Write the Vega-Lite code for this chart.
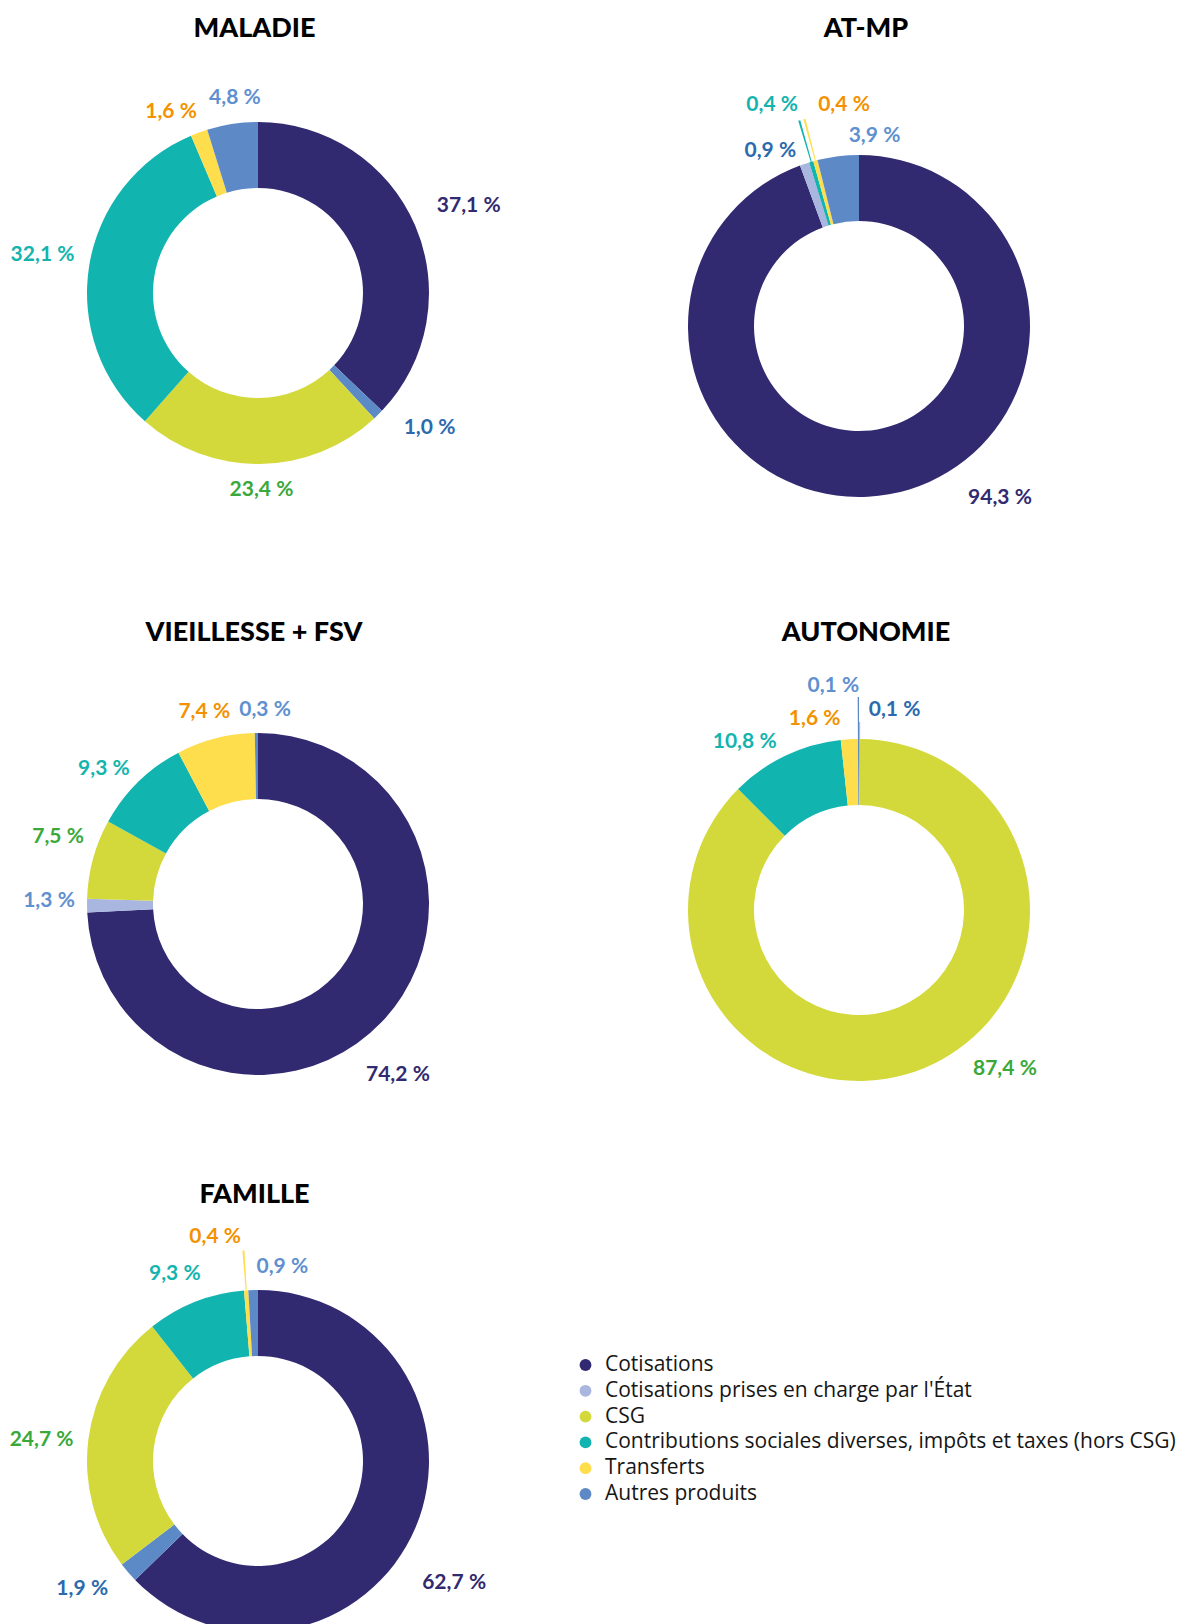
{
  "$schema": "https://vega.github.io/schema/vega-lite/v6.json",
  "background": "white",
  "padding": {"top": 15, "left": 0, "right": 0, "bottom": 0},
  "autosize": {"type": "pad"},
  "datasets": {
    "d": [
      {"branche": "MALADIE", "cat": "Cotisations", "ordre": 1, "valeur": 0.371},
      {"branche": "MALADIE", "cat": "Cotisations prises en charge par l'État", "ordre": 2, "valeur": 0.010},
      {"branche": "MALADIE", "cat": "CSG", "ordre": 3, "valeur": 0.234},
      {"branche": "MALADIE", "cat": "Contributions sociales diverses, impôts et taxes (hors CSG)", "ordre": 4, "valeur": 0.321},
      {"branche": "MALADIE", "cat": "Transferts", "ordre": 5, "valeur": 0.016},
      {"branche": "MALADIE", "cat": "Autres produits", "ordre": 6, "valeur": 0.048},
      {"branche": "AT-MP", "cat": "Cotisations", "ordre": 1, "valeur": 0.943},
      {"branche": "AT-MP", "cat": "Cotisations prises en charge par l'État", "ordre": 2, "valeur": 0.009},
      {"branche": "AT-MP", "cat": "Contributions sociales diverses, impôts et taxes (hors CSG)", "ordre": 4, "valeur": 0.004},
      {"branche": "AT-MP", "cat": "Transferts", "ordre": 5, "valeur": 0.004},
      {"branche": "AT-MP", "cat": "Autres produits", "ordre": 6, "valeur": 0.039},
      {"branche": "VIEILLESSE + FSV", "cat": "Cotisations", "ordre": 1, "valeur": 0.742},
      {"branche": "VIEILLESSE + FSV", "cat": "Cotisations prises en charge par l'État", "ordre": 2, "valeur": 0.013},
      {"branche": "VIEILLESSE + FSV", "cat": "CSG", "ordre": 3, "valeur": 0.075},
      {"branche": "VIEILLESSE + FSV", "cat": "Contributions sociales diverses, impôts et taxes (hors CSG)", "ordre": 4, "valeur": 0.093},
      {"branche": "VIEILLESSE + FSV", "cat": "Transferts", "ordre": 5, "valeur": 0.074},
      {"branche": "VIEILLESSE + FSV", "cat": "Autres produits", "ordre": 6, "valeur": 0.003},
      {"branche": "AUTONOMIE", "cat": "Cotisations prises en charge par l'État", "ordre": 2, "valeur": 0.001},
      {"branche": "AUTONOMIE", "cat": "CSG", "ordre": 3, "valeur": 0.874},
      {"branche": "AUTONOMIE", "cat": "Contributions sociales diverses, impôts et taxes (hors CSG)", "ordre": 4, "valeur": 0.108},
      {"branche": "AUTONOMIE", "cat": "Transferts", "ordre": 5, "valeur": 0.016},
      {"branche": "AUTONOMIE", "cat": "Autres produits", "ordre": 6, "valeur": 0.001},
      {"branche": "FAMILLE", "cat": "Cotisations", "ordre": 1, "valeur": 0.627},
      {"branche": "FAMILLE", "cat": "Cotisations prises en charge par l'État", "ordre": 2, "valeur": 0.019},
      {"branche": "FAMILLE", "cat": "CSG", "ordre": 3, "valeur": 0.247},
      {"branche": "FAMILLE", "cat": "Contributions sociales diverses, impôts et taxes (hors CSG)", "ordre": 4, "valeur": 0.093},
      {"branche": "FAMILLE", "cat": "Transferts", "ordre": 5, "valeur": 0.004},
      {"branche": "FAMILLE", "cat": "Autres produits", "ordre": 6, "valeur": 0.009}
    ]
  },
  "columns": 2,
  "align": "each",
  "bounds": "flush",
  "spacing": {"row": 68, "column": 85},
  "concat": [
    {
      "title": {"text": "MALADIE", "dx": -3.5},
      "width": 516, "height": 470,
      "data": {"name": "d"},
      "transform": [{"filter": "datum.branche == 'MALADIE'"}],
      "encoding": {
        "theta": {"field": "valeur", "type": "quantitative", "stack": true},
        "order": {"field": "ordre", "type": "quantitative"}
      },
      "layer": [
        {"mark": {"type": "arc", "outerRadius": 171, "innerRadius": 105},
         "encoding": {"color": {"condition": {"test": "datum.ordre == 2", "value": "#5b8ac6"}, "field": "cat", "type": "nominal",
           "scale": {"domain": ["Cotisations", "Cotisations prises en charge par l'État", "CSG", "Contributions sociales diverses, impôts et taxes (hors CSG)", "Transferts", "Autres produits"], "range": ["#322a70", "#a8b6e0", "#d3d93b", "#12b4af", "#ffde4d", "#5d8ac6"]},
           "legend": {"title": null}}}},
        {"mark": {"type": "text", "radius": 200, "font": "Lato", "fontSize": 21, "fontWeight": "bold",
                  "dx": {"expr": "[27, 31, 1, -18, -18, 7][datum.ordre - 1]"},
                  "dy": {"expr": "[-8, -7, -3, -6, 7, 3][datum.ordre - 1]"}},
         "encoding": {"text": {"field": "valeur", "type": "quantitative", "format": ".1%"},
           "fill": {"field": "cat", "type": "nominal", "legend": null,
             "scale": {"domain": ["Cotisations", "Cotisations prises en charge par l'État", "CSG", "Contributions sociales diverses, impôts et taxes (hors CSG)", "Transferts", "Autres produits"], "range": ["#322a70", "#2b6aad", "#3aa83a", "#14b4ae", "#f39200", "#6090cf"]}}}}
      ]
    },
    {
      "title": {"text": "AT-MP", "dx": 7},
      "width": 516, "height": 536,
      "data": {"name": "d"},
      "transform": [{"filter": "datum.branche == 'AT-MP'"}],
      "encoding": {
        "theta": {"field": "valeur", "type": "quantitative", "stack": true},
        "order": {"field": "ordre", "type": "quantitative"}
      },
      "layer": [
        {"mark": {"type": "arc", "outerRadius": 171, "innerRadius": 105},
         "encoding": {"color": {"field": "cat", "type": "nominal",
           "scale": {"domain": ["Cotisations", "Cotisations prises en charge par l'État", "CSG", "Contributions sociales diverses, impôts et taxes (hors CSG)", "Transferts", "Autres produits"], "range": ["#322a70", "#a8b6e0", "#d3d93b", "#12b4af", "#ffde4d", "#5d8ac6"]},
           "legend": {"title": null}}}},
        {"mark": {"type": "arc", "innerRadius": 171, "outerRadius": 214, "padAngle": 0.012,
                  "opacity": {"expr": "datum.ordre == 4 || datum.ordre == 5 ? 1 : 0"}},
         "encoding": {"color": {"field": "cat", "type": "nominal", "legend": null}}},
        {"mark": {"type": "text", "radius": 200, "font": "Lato", "fontSize": 21, "fontWeight": "bold",
                  "dx": {"expr": "[106, -25, 0, -31, 36, 40][datum.ordre - 1]"},
                  "dy": {"expr": "[-25, 15, 0, -29, -28, 8][datum.ordre - 1]"}},
         "encoding": {"text": {"field": "valeur", "type": "quantitative", "format": ".1%"},
           "fill": {"field": "cat", "type": "nominal", "legend": null,
             "scale": {"domain": ["Cotisations", "Cotisations prises en charge par l'État", "CSG", "Contributions sociales diverses, impôts et taxes (hors CSG)", "Transferts", "Autres produits"], "range": ["#322a70", "#2b6aad", "#3aa83a", "#14b4ae", "#f39200", "#6090cf"]}}}}
      ]
    },
    {
      "title": {"text": "VIEILLESSE + FSV", "dx": -4},
      "width": 516, "height": 484,
      "data": {"name": "d"},
      "transform": [{"filter": "datum.branche == 'VIEILLESSE + FSV'"}],
      "encoding": {
        "theta": {"field": "valeur", "type": "quantitative", "stack": true},
        "order": {"field": "ordre", "type": "quantitative"}
      },
      "layer": [
        {"mark": {"type": "arc", "outerRadius": 171, "innerRadius": 105},
         "encoding": {"color": {"field": "cat", "type": "nominal",
           "scale": {"domain": ["Cotisations", "Cotisations prises en charge par l'État", "CSG", "Contributions sociales diverses, impôts et taxes (hors CSG)", "Transferts", "Autres produits"], "range": ["#322a70", "#a8b6e0", "#d3d93b", "#12b4af", "#ffde4d", "#5d8ac6"]},
           "legend": {"title": null}}}},
        {"mark": {"type": "text", "radius": 200, "font": "Lato", "fontSize": 21, "fontWeight": "bold",
                  "dx": {"expr": "[-5, -9, -7, -14, -4, 9][datum.ordre - 1]"},
                  "dy": {"expr": "[33, -5, -14, 8, 2, 6][datum.ordre - 1]"}},
         "encoding": {"text": {"field": "valeur", "type": "quantitative", "format": ".1%"},
           "fill": {"condition": {"test": "datum.ordre == 2", "value": "#6090cf"}, "field": "cat", "type": "nominal", "legend": null,
             "scale": {"domain": ["Cotisations", "Cotisations prises en charge par l'État", "CSG", "Contributions sociales diverses, impôts et taxes (hors CSG)", "Transferts", "Autres produits"], "range": ["#322a70", "#2b6aad", "#3aa83a", "#14b4ae", "#f39200", "#6090cf"]}}}}
      ]
    },
    {
      "title": {"text": "AUTONOMIE", "dx": 7},
      "width": 516, "height": 496,
      "data": {"name": "d"},
      "transform": [{"filter": "datum.branche == 'AUTONOMIE'"}],
      "encoding": {
        "theta": {"field": "valeur", "type": "quantitative", "stack": true},
        "order": {"field": "ordre", "type": "quantitative"}
      },
      "layer": [
        {"mark": {"type": "arc", "outerRadius": 171, "innerRadius": 105},
         "encoding": {"color": {"field": "cat", "type": "nominal",
           "scale": {"domain": ["Cotisations", "Cotisations prises en charge par l'État", "CSG", "Contributions sociales diverses, impôts et taxes (hors CSG)", "Transferts", "Autres produits"], "range": ["#322a70", "#a8b6e0", "#d3d93b", "#12b4af", "#ffde4d", "#5d8ac6"]},
           "legend": {"title": null}}}},
        {"mark": {"type": "arc", "innerRadius": 171, "outerRadius": {"expr": "datum.ordre == 2 ? 188 : 213"},
                  "opacity": {"expr": "datum.ordre == 2 || datum.ordre == 6 ? 1 : 0"}},
         "encoding": {"color": {"field": "cat", "type": "nominal", "legend": null}}},
        {"mark": {"type": "text", "radius": 200, "font": "Lato", "fontSize": 21, "fontWeight": "bold",
                  "dx": {"expr": "[0, 35, 70, -28, -33, -25][datum.ordre - 1]"},
                  "dy": {"expr": "[0, 0, -26, 12, 9, -24][datum.ordre - 1]"}},
         "encoding": {"text": {"field": "valeur", "type": "quantitative", "format": ".1%"},
           "fill": {"field": "cat", "type": "nominal", "legend": null,
             "scale": {"domain": ["Cotisations", "Cotisations prises en charge par l'État", "CSG", "Contributions sociales diverses, impôts et taxes (hors CSG)", "Transferts", "Autres produits"], "range": ["#322a70", "#2b6aad", "#3aa83a", "#14b4ae", "#f39200", "#6090cf"]}}}}
      ]
    },
    {
      "title": {"text": "FAMILLE", "dx": -3.5, "dy": -2},
      "width": 516, "height": 470,
      "data": {"name": "d"},
      "transform": [{"filter": "datum.branche == 'FAMILLE'"}],
      "encoding": {
        "theta": {"field": "valeur", "type": "quantitative", "stack": true},
        "order": {"field": "ordre", "type": "quantitative"}
      },
      "layer": [
        {"mark": {"type": "arc", "outerRadius": 171, "innerRadius": 105},
         "encoding": {"color": {"condition": {"test": "datum.ordre == 2", "value": "#5b8ac6"}, "field": "cat", "type": "nominal",
           "scale": {"domain": ["Cotisations", "Cotisations prises en charge par l'État", "CSG", "Contributions sociales diverses, impôts et taxes (hors CSG)", "Transferts", "Autres produits"], "range": ["#322a70", "#a8b6e0", "#d3d93b", "#12b4af", "#ffde4d", "#5d8ac6"]},
           "legend": {"title": null}}}},
        {"mark": {"type": "arc", "innerRadius": 171, "outerRadius": 211, "padAngle": 0.012,
                  "opacity": {"expr": "datum.ordre == 5 ? 1 : 0"}},
         "encoding": {"color": {"field": "cat", "type": "nominal", "legend": null}}},
        {"mark": {"type": "text", "radius": 200, "font": "Lato", "fontSize": 21, "fontWeight": "bold",
                  "dx": {"expr": "[12, -24, -18, -10, -29, 30][datum.ordre - 1]"},
                  "dy": {"expr": "[44, -2, 4, -1, -24, 6][datum.ordre - 1]"}},
         "encoding": {"text": {"field": "valeur", "type": "quantitative", "format": ".1%"},
           "fill": {"field": "cat", "type": "nominal", "legend": null,
             "scale": {"domain": ["Cotisations", "Cotisations prises en charge par l'État", "CSG", "Contributions sociales diverses, impôts et taxes (hors CSG)", "Transferts", "Autres produits"], "range": ["#322a70", "#2b6aad", "#3aa83a", "#14b4ae", "#f39200", "#6090cf"]}}}}
      ]
    }
  ],
  "config": {
    "view": {"stroke": null},
    "locale": {"number": {"decimal": ",", "thousands": "\u00a0", "grouping": [3], "currency": ["", "\u00a0€"], "percent": "\u202f%"}},
    "title": {"font": "Lato", "fontSize": 27, "fontWeight": 900, "color": "#000000", "anchor": "middle", "offset": 15},
    "legend": {"orient": "none", "legendX": 575, "legendY": 1296.5, "symbolType": "circle", "symbolSize": 140, "symbolStrokeWidth": 0,
               "labelFont": "Open Sans", "labelFontSize": 21, "labelColor": "#161616", "labelOffset": 9, "rowPadding": 3.8, "padding": 0, "labelLimit": 900}
  }
}
